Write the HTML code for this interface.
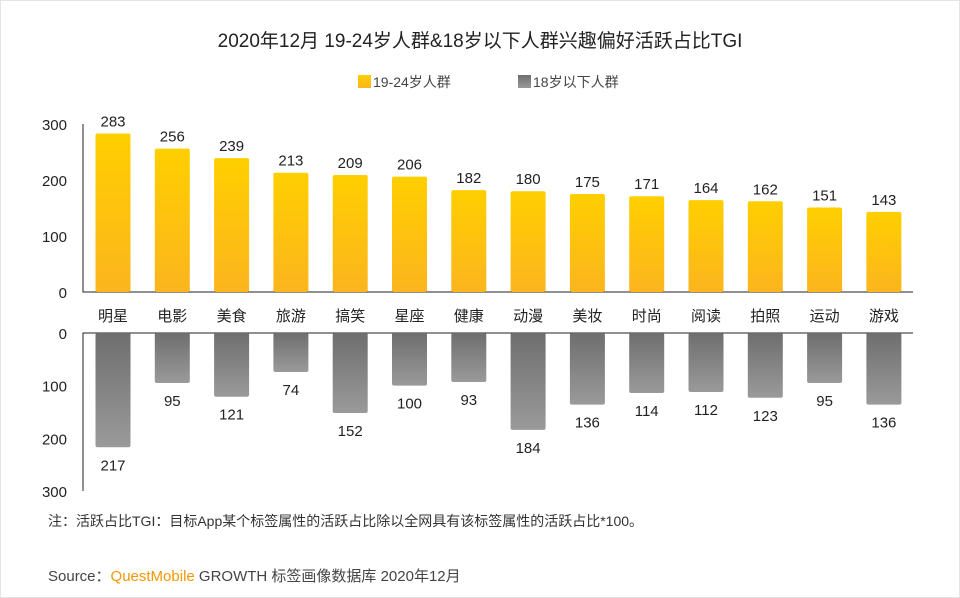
<!DOCTYPE html>
<html><head><meta charset="utf-8"><style>
body{margin:0;background:#fff;}
#wrap{position:relative;width:960px;height:598px;overflow:hidden;background:#fff;font-family:"Liberation Sans","Noto Sans CJK SC",sans-serif;}
text{font-family:"Liberation Sans","Noto Sans CJK SC",sans-serif;}
</style></head><body>
<div id="wrap">
<svg id="svg" width="960" height="598" xmlns="http://www.w3.org/2000/svg">
<defs>
<linearGradient id="gy" x1="0" y1="0" x2="0" y2="1"><stop offset="0" stop-color="#ffcf00"/><stop offset="1" stop-color="#fcb51e"/></linearGradient>
<linearGradient id="gg" x1="0" y1="0" x2="0" y2="1"><stop offset="0" stop-color="#6e6e6e"/><stop offset="1" stop-color="#9a9a9a"/></linearGradient>
</defs>
<rect x="0.5" y="0.5" width="959" height="597" fill="none" stroke="#e4e4e4"/>
<text x="480" y="47" text-anchor="middle" font-size="19" fill="#222">2020年12月 19-24岁人群&amp;18岁以下人群兴趣偏好活跃占比TGI</text>
<g><rect x="358" y="75" width="13" height="13" fill="url(#gy)"/><text x="373" y="87" font-size="14" fill="#444">19-24岁人群</text></g>
<g><rect x="518" y="75" width="13" height="13" fill="url(#gg)"/><text x="533" y="87" font-size="14" fill="#444">18岁以下人群</text></g>
<g id="marks"></g>
<text x="48" y="526" font-size="14" fill="#333">注：活跃占比TGI：目标App某个标签属性的活跃占比除以全网具有该标签属性的活跃占比*100。</text>
<text x="48" y="581" font-size="15" fill="#444">Source：<tspan fill="#f39800">QuestMobile</tspan> GROWTH 标签画像数据库 2020年12月</text>
</svg>
</div>
<script>
const categories=["明星","电影","美食","旅游","搞笑","星座","健康","动漫","美妆","时尚","阅读","拍照","运动","游戏"];
const seriesA=[283,256,239,213,209,206,182,180,175,171,164,162,151,143];
const seriesB=[217,95,121,74,152,100,93,184,136,114,112,123,95,136];
const ticks=[0,100,200,300];
const NS="http://www.w3.org/2000/svg";
const g=document.getElementById('marks');
const topBase=292,topScale=168/300,botBase=333,botScale=158/300;
const xStart=83,step=59.3,bw=35;
function yTop(v){return topBase-v*topScale;}
function yBot(v){return botBase+v*botScale;}
function xC(i){return xStart+30+i*step;}
function mk(tag,attrs){const e=document.createElementNS(NS,tag);for(const k in attrs)e.setAttribute(k,attrs[k]);g.appendChild(e);return e;}
function txt(x,y,s,size,anchor,fill){const t=mk('text',{x:x,y:y,'font-size':size,'text-anchor':anchor,fill:fill});t.textContent=s;return t;}
// axes
let a=mk('path',{d:`M${xStart} ${yTop(300)}V${topBase}H${xStart+830}`,stroke:'#222',fill:'none'});


a=mk('path',{d:`M${xStart+830} ${botBase}H${xStart}V${yBot(300)}`,stroke:'#222',fill:'none'});


ticks.forEach(t=>{
 let e=txt(67,yTop(t)+6,String(t),15,'end','#222');
 
 
 e=txt(67,yBot(t)+6,String(t),15,'end','#222');
 
 
});
categories.forEach((c,i)=>{
 const x=xC(i);
 let r=mk('rect',{x:x-bw/2,y:yTop(seriesA[i]),width:bw,height:seriesA[i]*topScale,rx:2,fill:'url(#gy)'});
 
 
 let t=txt(x,yTop(seriesA[i])-7,String(seriesA[i]),15,'middle','#222');
 
 
 r=mk('rect',{x:x-bw/2,y:botBase,width:bw,height:seriesB[i]*botScale,rx:2,fill:'url(#gg)'});
 
 
 t=txt(x,yBot(seriesB[i])+23,String(seriesB[i]),15,'middle','#222');
 
 
 t=txt(x,321,c,15,'middle','#222');
 
 
});
</script>
</body></html>
